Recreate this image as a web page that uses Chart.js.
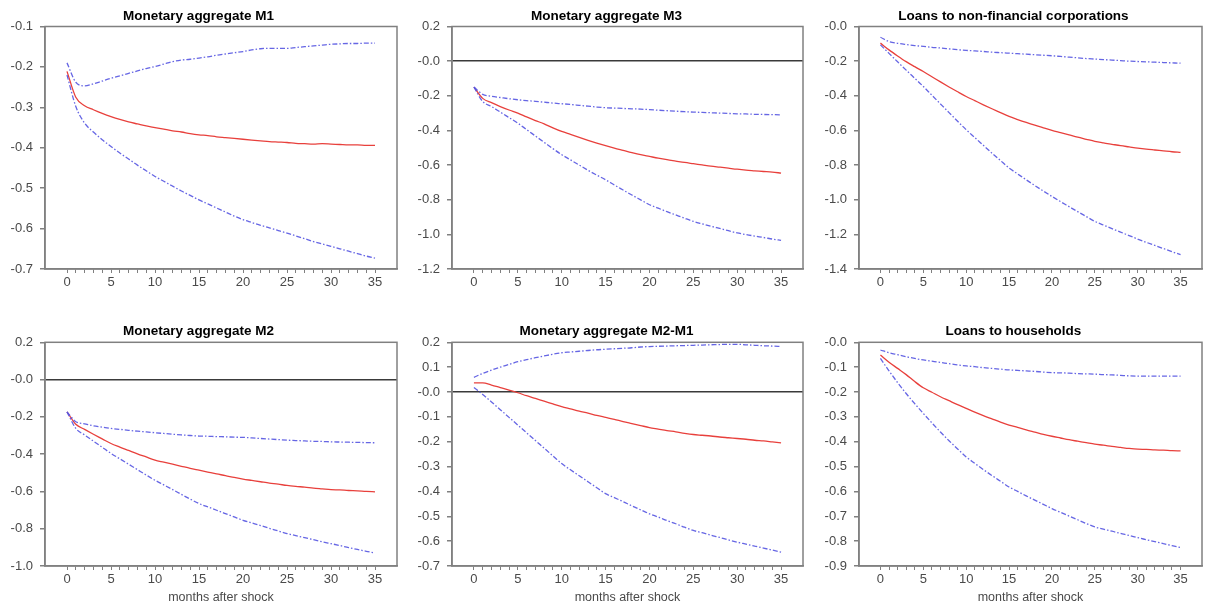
<!DOCTYPE html>
<html>
<head>
<meta charset="utf-8">
<title>Impulse responses</title>
<script src="https://cdn.jsdelivr.net/npm/chart.js"></script>
<style>
  html, body { margin: 0; padding: 0; background: #fff; }
  #wrap { position: relative; width: 1209px; height: 608px; overflow: hidden; }
  #wrap canvas { position: absolute; }
</style>
</head>
<body>
<div id="wrap">
  <canvas id="c1" width="404" height="300" style="left:0px;top:0px"></canvas>
  <canvas id="c2" width="396" height="300" style="left:410px;top:0px"></canvas>
  <canvas id="c3" width="384" height="300" style="left:825px;top:0px"></canvas>
  <canvas id="c4" width="404" height="298" style="left:0px;top:310px"></canvas>
  <canvas id="c5" width="396" height="298" style="left:410px;top:310px"></canvas>
  <canvas id="c6" width="384" height="298" style="left:825px;top:310px"></canvas>
</div>
<script>
// months after the shock
const months = [0,1,2,3,4,5,6,7,8,9,10,11,12,13,14,15,16,17,18,19,20,21,22,23,24,25,26,27,28,29,30,31,32,33,34,35];

const titles = ["Monetary aggregate M1", "Monetary aggregate M3", "Loans to non-financial corporations",
                "Monetary aggregate M2", "Monetary aggregate M2-M1", "Loans to households"];
const xTitle = "months after shock";
const xLabelTicks = [0, 5, 10, 15, 20, 25, 30, 35];

// Monetary aggregate M1
const m1Mid = [-0.211,-0.275,-0.296,-0.306,-0.315,-0.323,-0.330,-0.336,-0.341,-0.346,-0.350,-0.354,-0.358,-0.361,-0.365,-0.368,-0.370,-0.373,-0.375,-0.377,-0.379,-0.381,-0.383,-0.385,-0.386,-0.387,-0.389,-0.390,-0.391,-0.390,-0.391,-0.392,-0.393,-0.393,-0.394,-0.394];
const m1Up = [-0.190,-0.238,-0.247,-0.242,-0.235,-0.228,-0.222,-0.216,-0.210,-0.204,-0.199,-0.193,-0.187,-0.183,-0.181,-0.178,-0.175,-0.171,-0.168,-0.165,-0.162,-0.158,-0.155,-0.154,-0.154,-0.154,-0.152,-0.150,-0.148,-0.146,-0.144,-0.143,-0.142,-0.142,-0.141,-0.141];
const m1Lo = [-0.220,-0.298,-0.339,-0.361,-0.380,-0.397,-0.413,-0.428,-0.443,-0.457,-0.471,-0.483,-0.495,-0.507,-0.518,-0.529,-0.539,-0.549,-0.559,-0.569,-0.578,-0.585,-0.592,-0.598,-0.605,-0.611,-0.618,-0.625,-0.632,-0.638,-0.644,-0.650,-0.656,-0.662,-0.668,-0.673];
const m1Ticks = [-0.7,-0.6,-0.5,-0.4,-0.3,-0.2,-0.1];

// Monetary aggregate M3
const m3Mid = [-0.150,-0.215,-0.240,-0.262,-0.282,-0.300,-0.322,-0.343,-0.362,-0.385,-0.406,-0.423,-0.440,-0.457,-0.473,-0.488,-0.502,-0.515,-0.528,-0.540,-0.550,-0.560,-0.569,-0.577,-0.585,-0.592,-0.599,-0.606,-0.612,-0.618,-0.624,-0.629,-0.633,-0.637,-0.641,-0.646];
const m3Up = [-0.150,-0.192,-0.203,-0.210,-0.217,-0.223,-0.228,-0.232,-0.237,-0.242,-0.246,-0.250,-0.255,-0.260,-0.265,-0.269,-0.271,-0.273,-0.275,-0.277,-0.280,-0.283,-0.286,-0.289,-0.292,-0.294,-0.296,-0.298,-0.300,-0.302,-0.304,-0.305,-0.307,-0.308,-0.309,-0.310];
const m3Lo = [-0.150,-0.233,-0.262,-0.294,-0.326,-0.358,-0.395,-0.432,-0.469,-0.505,-0.540,-0.570,-0.600,-0.630,-0.658,-0.685,-0.715,-0.744,-0.773,-0.801,-0.829,-0.849,-0.869,-0.888,-0.907,-0.925,-0.939,-0.953,-0.966,-0.979,-0.992,-1.001,-1.010,-1.018,-1.027,-1.035];
const m3Ticks = [-1.2,-1.0,-0.8,-0.6,-0.4,-0.2,0,0.2];

// Loans to non-financial corporations
const nfcMid = [-0.096,-0.135,-0.170,-0.203,-0.232,-0.260,-0.290,-0.320,-0.349,-0.377,-0.404,-0.428,-0.452,-0.475,-0.497,-0.519,-0.537,-0.554,-0.570,-0.585,-0.600,-0.613,-0.626,-0.639,-0.651,-0.663,-0.672,-0.680,-0.688,-0.695,-0.702,-0.708,-0.713,-0.718,-0.723,-0.727];
const nfcUp = [-0.062,-0.087,-0.097,-0.104,-0.110,-0.115,-0.120,-0.124,-0.129,-0.134,-0.138,-0.141,-0.144,-0.148,-0.151,-0.154,-0.157,-0.160,-0.163,-0.166,-0.169,-0.173,-0.177,-0.181,-0.185,-0.188,-0.191,-0.194,-0.197,-0.200,-0.202,-0.204,-0.206,-0.208,-0.210,-0.212];
const nfcLo = [-0.106,-0.155,-0.204,-0.252,-0.299,-0.346,-0.397,-0.447,-0.497,-0.547,-0.596,-0.641,-0.686,-0.731,-0.774,-0.817,-0.851,-0.885,-0.918,-0.950,-0.981,-1.011,-1.040,-1.069,-1.097,-1.125,-1.146,-1.167,-1.187,-1.207,-1.227,-1.246,-1.264,-1.282,-1.300,-1.317];
const nfcTicks = [-1.4,-1.2,-1.0,-0.8,-0.6,-0.4,-0.2,0];

// Monetary aggregate M2
const m2Mid = [-0.173,-0.240,-0.267,-0.293,-0.318,-0.343,-0.362,-0.380,-0.398,-0.415,-0.432,-0.443,-0.454,-0.465,-0.476,-0.486,-0.496,-0.506,-0.515,-0.525,-0.534,-0.541,-0.548,-0.555,-0.561,-0.568,-0.573,-0.577,-0.582,-0.586,-0.590,-0.592,-0.595,-0.597,-0.600,-0.602];
const m2Up = [-0.173,-0.226,-0.237,-0.248,-0.255,-0.262,-0.267,-0.272,-0.277,-0.281,-0.285,-0.289,-0.293,-0.297,-0.300,-0.303,-0.304,-0.306,-0.307,-0.309,-0.310,-0.313,-0.316,-0.319,-0.322,-0.325,-0.327,-0.329,-0.331,-0.332,-0.334,-0.335,-0.336,-0.337,-0.338,-0.339];
const m2Lo = [-0.173,-0.262,-0.297,-0.330,-0.363,-0.396,-0.425,-0.454,-0.483,-0.512,-0.540,-0.565,-0.590,-0.616,-0.641,-0.665,-0.683,-0.701,-0.719,-0.737,-0.755,-0.769,-0.783,-0.798,-0.812,-0.826,-0.837,-0.848,-0.859,-0.870,-0.880,-0.890,-0.901,-0.911,-0.921,-0.930];
const m2Ticks = [-1.0,-0.8,-0.6,-0.4,-0.2,0,0.2];

// Monetary aggregate M2-M1
const m21Mid = [0.037,0.037,0.028,0.018,0.008,-0.003,-0.015,-0.026,-0.037,-0.048,-0.059,-0.068,-0.077,-0.085,-0.094,-0.102,-0.110,-0.119,-0.127,-0.135,-0.143,-0.149,-0.155,-0.160,-0.166,-0.171,-0.174,-0.177,-0.181,-0.184,-0.187,-0.190,-0.194,-0.197,-0.201,-0.205];
const m21Up = [0.059,0.075,0.088,0.100,0.111,0.122,0.130,0.138,0.145,0.152,0.158,0.161,0.164,0.167,0.170,0.172,0.174,0.176,0.178,0.181,0.183,0.184,0.185,0.186,0.187,0.188,0.189,0.190,0.191,0.192,0.192,0.190,0.188,0.186,0.185,0.183];
const m21Lo = [0.018,-0.010,-0.040,-0.071,-0.102,-0.133,-0.164,-0.195,-0.226,-0.257,-0.288,-0.313,-0.337,-0.361,-0.385,-0.409,-0.425,-0.441,-0.458,-0.474,-0.490,-0.503,-0.517,-0.530,-0.544,-0.557,-0.566,-0.576,-0.585,-0.595,-0.604,-0.612,-0.620,-0.628,-0.636,-0.644];
const m21Ticks = [-0.7,-0.6,-0.5,-0.4,-0.3,-0.2,-0.1,0,0.1,0.2];

// Loans to households
const hhMid = [-0.051,-0.080,-0.105,-0.130,-0.158,-0.183,-0.201,-0.219,-0.235,-0.251,-0.266,-0.281,-0.295,-0.308,-0.321,-0.333,-0.342,-0.352,-0.361,-0.370,-0.378,-0.385,-0.392,-0.398,-0.404,-0.410,-0.414,-0.419,-0.423,-0.427,-0.430,-0.431,-0.433,-0.434,-0.436,-0.437];
const hhUp = [-0.031,-0.042,-0.050,-0.058,-0.065,-0.071,-0.076,-0.081,-0.086,-0.091,-0.095,-0.098,-0.102,-0.105,-0.108,-0.111,-0.113,-0.115,-0.117,-0.120,-0.122,-0.123,-0.124,-0.126,-0.127,-0.128,-0.130,-0.131,-0.133,-0.135,-0.136,-0.136,-0.136,-0.136,-0.136,-0.136];
const hhLo = [-0.065,-0.115,-0.162,-0.206,-0.247,-0.286,-0.324,-0.361,-0.396,-0.429,-0.461,-0.487,-0.512,-0.536,-0.559,-0.582,-0.600,-0.618,-0.635,-0.652,-0.669,-0.684,-0.699,-0.714,-0.729,-0.743,-0.752,-0.760,-0.769,-0.777,-0.786,-0.794,-0.802,-0.810,-0.818,-0.826];
const hhTicks = [-0.9,-0.8,-0.7,-0.6,-0.5,-0.4,-0.3,-0.2,-0.1,0];

const FONT = "'Liberation Sans', Arial, sans-serif";
const FRAME = "#808080";
const LABEL = "#4a4a4a";

// box round the plot area
const framePlugin = {
    id: "frame",
    afterDraw(chart) {
        const a = chart.chartArea;
        const ctx = chart.ctx;
        ctx.save();
        ctx.strokeStyle = FRAME;
        ctx.lineWidth = 1.5;
        ctx.strokeRect(a.left, a.top, a.right - a.left, a.bottom - a.top);
        ctx.restore();
    }
};

function pts(arr) {
    return months.map((m, i) => ({ x: m, y: arr[i] }));
}

function fmt(v) {
    if (Math.abs(v) < 1e-9) return "-0.0";
    return v.toFixed(1);
}

function band(arr) {
    return { data: pts(arr), borderColor: "rgba(85, 85, 225, 0.9)", borderWidth: 1.3, borderDash: [5, 2, 1.5, 2],
             pointRadius: 0, fill: false, cubicInterpolationMode: "monotone" };
}

function makePanel(id, title, mid, up, lo, yTicks, opts) {
    const yMin = yTicks[0];
    const yMax = yTicks[yTicks.length - 1];
    return new Chart(document.getElementById(id), {
        type: "line",
        data: {
            datasets: [
                band(up),
                band(lo),
                { data: pts(mid), borderColor: "#e8403c", borderWidth: 1.3, pointRadius: 0, fill: false, cubicInterpolationMode: "monotone" }
            ]
        },
        options: {
            responsive: false,
            animation: false,
            devicePixelRatio: 1,
            layout: { padding: { right: opts.padRight, left: 0, top: 0, bottom: 0 } },
            plugins: {
                legend: { display: false },
                tooltip: { enabled: false },
                title: {
                    display: true,
                    text: title,
                    color: "#000",
                    font: { family: FONT, size: 13.5, weight: "bold" },
                    padding: { top: opts.titleTop, bottom: opts.titleBottom }
                }
            },
            scales: {
                x: {
                    type: "linear",
                    min: -2.5,
                    max: 37.5,
                    afterBuildTicks: (s) => { s.ticks = months.map(v => ({ value: v })); },
                    afterFit: (s) => { s.height = opts.xHeight; },
                    ticks: {
                        autoSkip: false,
                        maxRotation: 0,
                        padding: 2,
                        color: LABEL,
                        font: { family: FONT, size: 13 },
                        callback: (v) => xLabelTicks.includes(v) ? String(v) : ""
                    },
                    grid: { drawOnChartArea: false, drawTicks: true, tickLength: 4, tickColor: FRAME, tickWidth: 1 },
                    border: { display: true, color: FRAME, width: 1.5 },
                    title: {
                        display: opts.showXTitle,
                        text: xTitle,
                        color: LABEL,
                        font: { family: FONT, size: 12.5 },
                        padding: { top: 0, bottom: 3 }
                    }
                },
                y: {
                    type: "linear",
                    min: yMin,
                    max: yMax,
                    afterBuildTicks: (s) => { s.ticks = yTicks.map(v => ({ value: v })); },
                    afterFit: (s) => { s.width = opts.yWidth; },
                    ticks: {
                        padding: 7,
                        color: LABEL,
                        font: { family: FONT, size: 13 },
                        callback: (v) => fmt(v)
                    },
                    grid: {
                        drawOnChartArea: true,
                        drawTicks: true,
                        tickLength: 5,
                        tickColor: FRAME,
                        lineWidth: 1.5,
                        color: (c) => (c.tick && Math.abs(c.tick.value) < 1e-9 && yMax > 0) ? "#3a3a3a" : "rgba(0,0,0,0)"
                    },
                    border: { display: true, color: FRAME, width: 1.5 }
                }
            }
        },
        plugins: [framePlugin]
    });
}

const topRow = { titleTop: 8, titleBottom: 2.3, xHeight: 31, showXTitle: false };
const botRow = { titleTop: 13, titleBottom: 3.1, xHeight: 42, showXTitle: true };

makePanel("c1", titles[0], m1Mid, m1Up, m1Lo, m1Ticks, Object.assign({}, topRow, { yWidth: 45, padRight: 7 }));
makePanel("c2", titles[1], m3Mid, m3Up, m3Lo, m3Ticks, Object.assign({}, topRow, { yWidth: 42, padRight: 3 }));
makePanel("c3", titles[2], nfcMid, nfcUp, nfcLo, nfcTicks, Object.assign({}, topRow, { yWidth: 34, padRight: 7 }));
makePanel("c4", titles[3], m2Mid, m2Up, m2Lo, m2Ticks, Object.assign({}, botRow, { yWidth: 45, padRight: 7 }));
makePanel("c5", titles[4], m21Mid, m21Up, m21Lo, m21Ticks, Object.assign({}, botRow, { yWidth: 42, padRight: 3 }));
makePanel("c6", titles[5], hhMid, hhUp, hhLo, hhTicks, Object.assign({}, botRow, { yWidth: 34, padRight: 7 }));
</script>
</body>
</html>
